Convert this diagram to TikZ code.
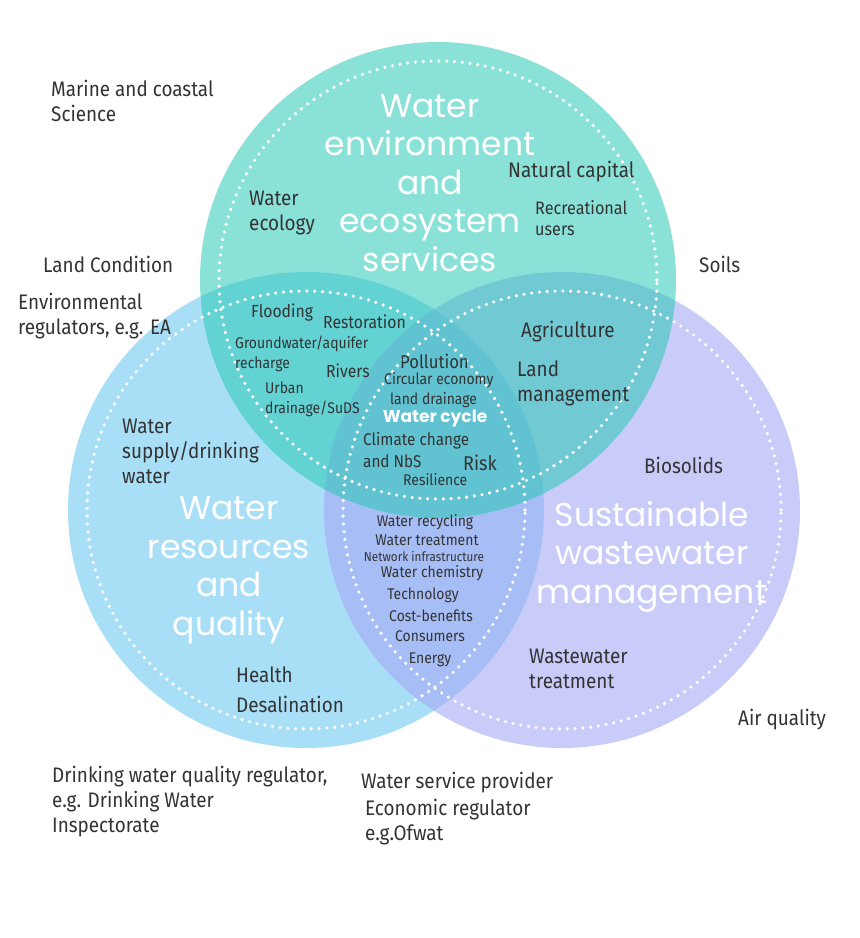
\documentclass[tikz,border=0pt]{standalone}
\usepackage{fontspec}
\setmainfont[FakeStretch=0.9]{Fira Sans}
\newfontfamily\headfont{Poppins}
\definecolor{ink}{HTML}{333333}
\definecolor{tealC}{RGB}{42,200,182}
\definecolor{blueC}{RGB}{112,202,240}
\definecolor{purpleC}{RGB}{165,168,245}

\begin{document}
\begin{tikzpicture}[x=1pt, y=-1pt,
  ring/.style={circle, minimum size=476pt, inner sep=0pt, draw=none, fill opacity=#1},
  dotring/.style={white, line width=3.6pt, line cap=round, dash pattern=on 0pt off 7.8pt},
  lbl/.style={text=ink, inner sep=0pt, align=left, anchor=base west},
  big/.style={lbl, font=\fontsize{21}{25}\selectfont},
  mid/.style={lbl, font=\fontsize{17.5}{21}\selectfont},
  sml/.style={lbl, font=\fontsize{15.5}{20}\selectfont},
  mid list/.style={text=ink, inner sep=0pt, anchor=base, font=\fontsize{15.5}{20}\selectfont},
  head/.style={text=white, inner sep=0pt, align=center, anchor=base,
    font=\headfont\fontsize{33}{38.5}\selectfont},
]
\useasboundingbox (0,0) rectangle (860,938);

% the three circles
\node[ring=0.6, fill=blueC] (resources) at (306,510) {};
\node[ring=0.6, fill=purpleC] (wastewater) at (562,510) {};
\node[ring=0.55, fill=tealC] (environment) at (438,280) {};
\foreach \c in {resources, wastewater, environment}
  \draw[dotring] (\c.center) circle[radius=219pt];

% headings (base = last line)
\node[head] (h-env) at (430,271) {Water\\environment\\and\\ecosystem\\services};
\node[head] (h-res) at (229,635) {Water\\resources\\and\\quality};
\node[head] (h-ww) at (652,603) {Sustainable\\wastewater\\management};
\node[text=white, inner sep=0pt, anchor=base, font=\headfont\bfseries\fontsize{17}{20}\selectfont]
  (cycle) at (435,422) {Water cycle};

% outside
\node[big] (marine) at (51,121) {Marine and coastal\\Science};
\node[big] (landcond) at (43,272) {Land Condition};
\node[big] (envreg) at (18,334) {Environmental\\regulators, e.g. EA};
\node[big] (soils) at (699,272) {Soils};
\node[big] (air) at (738,725) {Air quality};
\node[big] (dwi) at (52,832) {Drinking water quality regulator,\\e.g. Drinking Water\\Inspectorate};
\node[big] (provider) at (361,788) {Water service provider};
\node[big] (ofwat) at (365,840) {Economic regulator\\e.g.Ofwat};

% environment
\node[big] (ecology) at (249,230) {Water\\ecology};
\node[big] (capital) at (508,177) {Natural capital};
\node[mid, font=\fontsize{18}{21}\selectfont] (recreation) at (535,235) {Recreational\\users};

% environment and resources
\node[mid] (flooding) at (251,317) {Flooding};
\node[mid] (restoration) at (323,328) {Restoration};
\node[sml] (groundwater) at (235,368) {Groundwater/aquifer\\recharge};
\node[mid] (rivers) at (326,377) {Rivers};
\node[sml] (urban) at (265,413) {Urban\\drainage/SuDS};

% centre
\node[mid, font=\fontsize{18.5}{21}\selectfont] (pollution) at (400,368) {Pollution};
\node[sml] (circular) at (384,384) {Circular economy};
\node[sml] (landdrain) at (390,404) {land drainage};
\node[mid, font=\fontsize{17}{22}\selectfont] (climate) at (363,467) {Climate change\\and NbS};
\node[big, font=\fontsize{20}{22}\selectfont] (risk) at (463,470) {Risk};
\node[sml] (resilience) at (403,485) {Resilience};

% environment and wastewater
\node[big] (agriculture) at (521,337) {Agriculture};
\node[big] (landman) at (517,401) {Land\\management};

% resources
\node[big] (supply) at (122,483) {Water\\supply/drinking\\water};
\node[big] (health) at (236,682) {Health};
\node[big] (desal) at (236,712) {Desalination};

% resources and wastewater
\node[mid list] (recycling) at (425,526) {Water recycling};
\node[mid list] (treatment) at (427,545) {Water treatment};
\node[mid list, font=\fontsize{13}{16}\selectfont] (network) at (424,561) {Network infrastructure};
\node[mid list] (chemistry) at (432,577) {Water chemistry};
\node[mid list] (technology) at (423,599) {Technology};
\node[mid list] (cost) at (431,621) {Cost-benefits};
\node[mid list] (consumers) at (430,641) {Consumers};
\node[mid list] (energy) at (430,663) {Energy};

% wastewater
\node[big] (biosolids) at (644,473) {Biosolids};
\node[big] (wwt) at (529,688) {Wastewater\\treatment};
\end{tikzpicture}
\end{document}
